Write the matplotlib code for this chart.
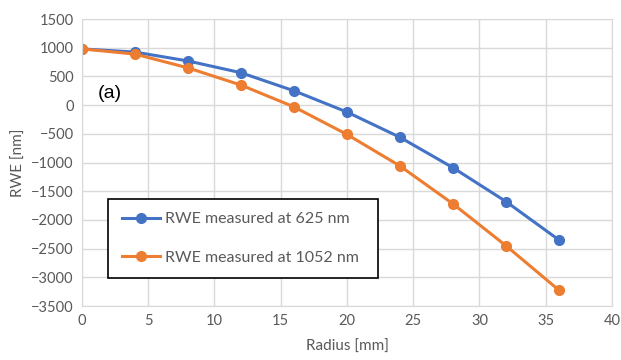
import matplotlib
matplotlib.use('Agg')
from matplotlib import pyplot as plt

radius = [0, 4, 8, 12, 16, 20, 24, 28, 32, 36]
rwe_625 = [980, 925, 770, 565, 250, -120, -560, -1090, -1680, -2350]
rwe_1052 = [980, 890, 650, 350, -30, -510, -1060, -1720, -2450, -3225]
labels = ['RWE measured at 625 nm', 'RWE measured at 1052 nm']

plt.rcParams['font.family'] = ['Lato', 'DejaVu Sans']

fig = plt.figure(figsize=(6.21, 3.6), dpi=100)
ax = fig.add_axes([0.132, 0.15, 0.8535, 0.797])

ax.plot(radius, rwe_625, color='#4472C4', lw=2.2, marker='o', ms=7, label=labels[0])
ax.plot(radius, rwe_1052, color='#ED7D31', lw=2.2, marker='o', ms=7, label=labels[1])

ax.set_xlim(0, 40)
ax.set_ylim(-3500, 1500)
ax.set_xticks(range(0, 41, 5))
ax.set_yticks(range(-3500, 1501, 500))
ax.grid(color='#D9D9D9', lw=1)
ax.set_axisbelow(True)
for s in ax.spines.values():
    s.set_color('#D9D9D9')
ax.tick_params(length=0, labelsize=10.5, labelcolor='#595959', pad=6)

ax.set_xlabel('Radius [mm]', fontsize=11, color='#595959', labelpad=8)
ax.set_ylabel('RWE [nm]', fontsize=11, color='#595959', labelpad=4)

ax.text(1.2, 200, '(a)', fontsize=14, family='Liberation Sans', va='center')

# boxed legend in the lower left of the plot area
leg = ax.legend(loc='center', bbox_to_anchor=(0.049, 0.098, 0.509, 0.275),
                mode='expand', fancybox=False, edgecolor='black',
                fontsize=11.5, labelspacing=1.5, handlelength=2.4,
                handletextpad=0.3, borderpad=0.85, borderaxespad=0,
                labelcolor='#595959', framealpha=1)
leg.get_frame().set_linewidth(1.2)

fig.savefig('out.png', dpi=100)
